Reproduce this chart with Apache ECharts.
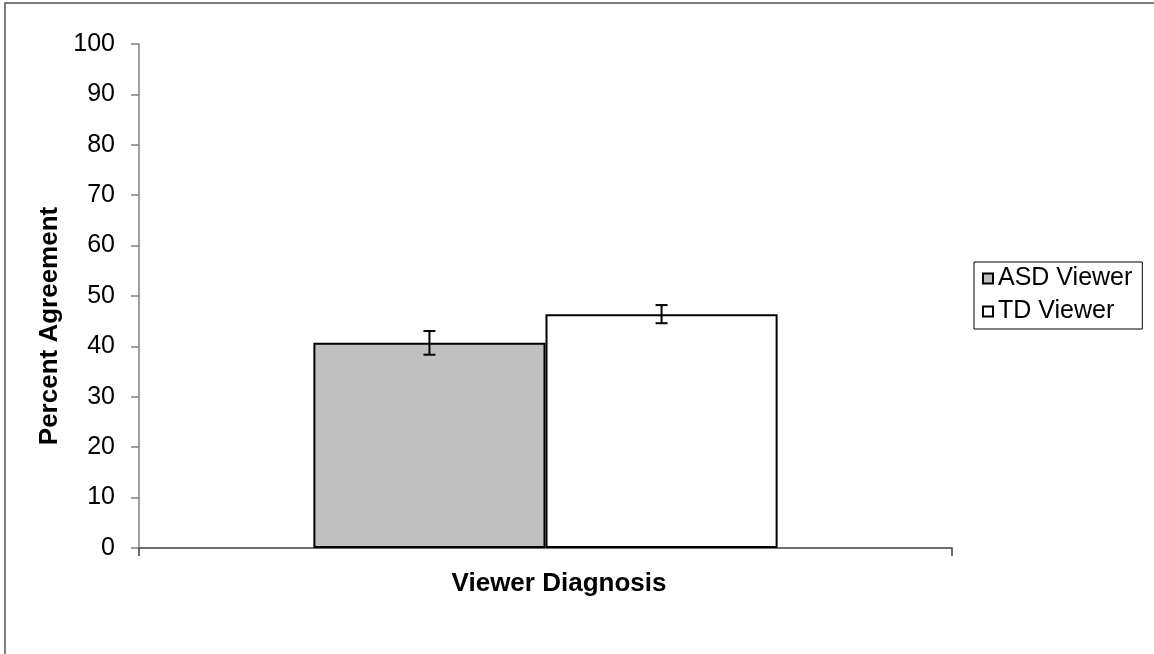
<!DOCTYPE html>
<html>
<head>
<meta charset="utf-8">
<script src="https://cdn.jsdelivr.net/npm/echarts@6/dist/echarts.min.js"></script>
<style>
  html, body { margin: 0; padding: 0; background: #fff; }
  #chart { width: 1154px; height: 654px; }
</style>
</head>
<body>
<div id="chart"></div>
<script>
// ---- data ----
const categories = ['Viewer Diagnosis'];
const seriesNames = ['ASD Viewer', 'TD Viewer'];
const asdValues = [40.7];
const asdErrors = [2.35];
const tdValues = [46.4];
const tdErrors = [1.8];
const yTicks = [0, 10, 20, 30, 40, 50, 60, 70, 80, 90, 100];

// ---- style ----
const FONT = 'Liberation Sans, Arial, sans-serif';
const BAR_FRAC = 0.2855; // bar width as fraction of category band

const chart = echarts.init(document.getElementById('chart'), null, { renderer: 'canvas' });

function errorSeries(name, values, errors, side) {
  return {
    type: 'custom',
    name: name + ' error',
    z: 5,
    silent: true,
    data: values.map((v, i) => [i, v - errors[i], v + errors[i]]),
    renderItem: function (params, api) {
      const band = api.size([1, 0])[0];
      const off = side * band * BAR_FRAC / 2;
      const lo = api.coord([api.value(0), api.value(1)]);
      const hi = api.coord([api.value(0), api.value(2)]);
      const x = lo[0] + off;
      const cap = 6;
      const st = { stroke: '#000', lineWidth: 2 };
      return {
        type: 'group',
        children: [
          { type: 'line', shape: { x1: x, y1: lo[1], x2: x, y2: hi[1] }, style: st },
          { type: 'line', shape: { x1: x - cap, y1: lo[1], x2: x + cap, y2: lo[1] }, style: st },
          { type: 'line', shape: { x1: x - cap, y1: hi[1], x2: x + cap, y2: hi[1] }, style: st }
        ]
      };
    }
  };
}

const option = {
  animation: false,
  backgroundColor: '#fff',
  textStyle: { fontFamily: FONT },
  graphic: [{
    type: 'rect',
    shape: { x: 5, y: 3, width: 1300, height: 800 },
    style: { fill: 'none', stroke: '#555', lineWidth: 1.5 },
    silent: true
  }],
  grid: { left: 139, right: 202, top: 44, bottom: 106, containLabel: false },
  legend: {
    orient: 'vertical',
    left: 974,
    top: 262,
    data: seriesNames,
    icon: 'rect',
    itemWidth: 10,
    itemHeight: 10,
    itemGap: 8,
    padding: [4, 10, 5, 8],
    borderColor: '#000',
    borderWidth: 1,
    textStyle: { fontSize: 25, color: '#000', fontFamily: FONT }
  },
  xAxis: {
    type: 'category',
    data: categories,
    axisLine: { lineStyle: { color: '#404040', width: 1.5 } },
    axisTick: { show: true, length: 8, lineStyle: { color: '#404040', width: 1.5 } },
    axisLabel: { fontSize: 26, fontWeight: 'bold', color: '#000', margin: 23, padding: [0, 0, 0, 27], fontFamily: FONT },
    splitLine: { show: false }
  },
  yAxis: {
    type: 'value',
    min: yTicks[0],
    max: yTicks[yTicks.length - 1],
    interval: 10,
    name: 'Percent Agreement',
    nameLocation: 'middle',
    nameGap: 68,
    nameTextStyle: { fontSize: 26, fontWeight: 'bold', color: '#000', fontFamily: FONT, padding: [0, 60, 0, 0] },
    axisLine: { show: true, lineStyle: { color: '#808080', width: 1.5 } },
    axisTick: { show: true, length: 8, lineStyle: { color: '#808080', width: 1.5 } },
    axisLabel: { fontSize: 25, color: '#000', margin: 24, fontFamily: FONT },
    splitLine: { show: false }
  },
  series: [
    {
      type: 'bar',
      name: seriesNames[0],
      data: asdValues,
      barWidth: (BAR_FRAC * 100) + '%',
      barGap: '0%',
      itemStyle: { color: '#C0C0C0', borderColor: '#000', borderWidth: 2 }
    },
    {
      type: 'bar',
      name: seriesNames[1],
      data: tdValues,
      barWidth: (BAR_FRAC * 100) + '%',
      barGap: '0%',
      itemStyle: { color: '#FFFFFF', borderColor: '#000', borderWidth: 2 }
    },
    errorSeries(seriesNames[0], asdValues, asdErrors, -1),
    errorSeries(seriesNames[1], tdValues, tdErrors, 1)
  ]
};

chart.setOption(option);
</script>
</body>
</html>
